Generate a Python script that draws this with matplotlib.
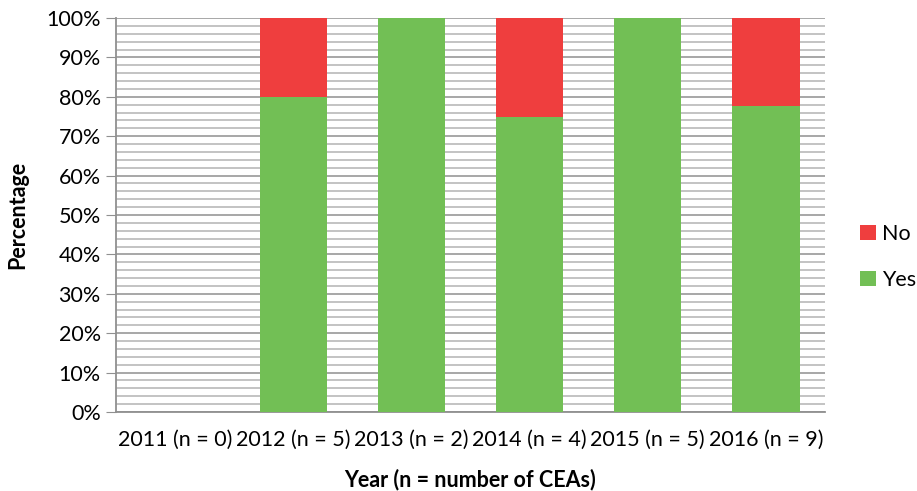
import matplotlib
matplotlib.use("Agg")
import matplotlib.pyplot as plt
import numpy as np
from matplotlib.ticker import MultipleLocator, FuncFormatter

plt.rcParams['font.family'] = ['Lato', 'DejaVu Sans']

categories = ["2011 (n = 0)", "2012 (n = 5)", "2013 (n = 2)", "2014 (n = 4)", "2015 (n = 5)", "2016 (n = 9)"]
yes_pct = [0, 80, 100, 75, 100, 77.78]
no_pct = [0, 20, 0, 25, 0, 22.22]

green = "#72BF55"
red = "#EF3E3E"
fs = 15.5

fig = plt.figure(figsize=(9.17, 4.91), dpi=100)
ax = fig.add_axes([116 / 917, 1 - 412 / 491, (825 - 116) / 917, (412 - 18) / 491])

x = np.arange(len(categories))
w = 0.57
ax.bar(x, yes_pct, width=w, color=green, label="Yes", zorder=3)
ax.bar(x, no_pct, width=w, bottom=yes_pct, color=red, label="No", zorder=3)

ax.set_xlim(-0.5, len(categories) - 0.5)
ax.set_ylim(0, 100)
ax.yaxis.set_major_locator(MultipleLocator(10))
ax.yaxis.set_minor_locator(MultipleLocator(2))
ax.yaxis.set_major_formatter(FuncFormatter(lambda v, p: f"{v:.0f}%"))
ax.grid(axis='y', which='major', color='#A0A0A0', linewidth=1.3, zorder=0)
ax.grid(axis='y', which='minor', color='#BEBEBE', linewidth=1.3, zorder=0)

ax.set_xticks(x)
ax.set_xticklabels(categories, fontsize=fs)
ax.tick_params(axis='x', length=0, pad=13)
ax.tick_params(axis='y', which='major', length=7, color='#909090', labelsize=fs, pad=4)
ax.tick_params(axis='y', which='minor', length=0)

for s in ['top', 'right']:
    ax.spines[s].set_visible(False)
ax.spines['left'].set_color('#909090')
ax.spines['left'].set_linewidth(1.3)
ax.spines['bottom'].set_color('#909090')
ax.spines['bottom'].set_linewidth(1.3)

fig.text((116 + 825) / 2 / 917, 1 - 480 / 491, "Year (n = number of CEAs)",
         fontsize=fs, fontweight='bold', ha='center', va='center')
fig.text(18 / 917, 1 - 215 / 491, "Percentage", fontsize=fs, fontweight='bold',
         rotation=90, ha='center', va='center')

handles, labels = ax.get_legend_handles_labels()
leg = fig.legend(handles[::-1], labels[::-1], loc='center left',
                 bbox_to_anchor=(849 / 917, 1 - 257 / 491), frameon=False,
                 fontsize=fs, handlelength=0.75, handleheight=0.75,
                 handletextpad=0.3, labelspacing=1.2, borderpad=0)

fig.savefig("out.png", dpi=100)
